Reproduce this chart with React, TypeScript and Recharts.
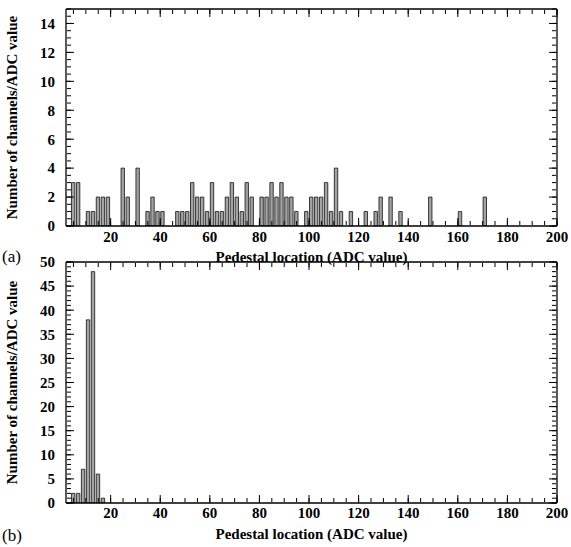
import { Bar, ComposedChart, XAxis, YAxis } from 'recharts'

// (a) pedestal histogram, 2-ADC bins (bin start -> channel count)
const adcBinsA = [
  4, 6, 10, 12, 14, 16, 18, 24, 26, 30, 34, 36, 38, 40, 46, 48, 50, 52, 54, 56,
  58, 60, 62, 64, 66, 68, 70, 72, 74, 76, 80, 82, 84, 86, 88, 90, 92, 94, 98, 100,
  102, 104, 106, 108, 110, 112, 116, 122, 126, 128, 132, 136, 148, 160, 170,
]
const channelCountsA = [
  3, 3, 1, 1, 2, 2, 2, 4, 2, 4, 1, 2, 1, 1, 1, 1, 1, 3, 2, 2,
  1, 3, 1, 1, 2, 3, 2, 1, 3, 2, 2, 2, 3, 2, 3, 2, 2, 1, 1, 2,
  2, 2, 3, 1, 4, 1, 1, 1, 1, 2, 2, 1, 2, 1, 2,
]

// (b)
const adcBinsB = [4, 6, 8, 10, 12, 14, 16]
const channelCountsB = [2, 2, 7, 38, 48, 6, 1]

const xTickLabels = [20, 40, 60, 80, 100, 120, 140, 160, 180, 200]
const yTickLabelsA = [0, 2, 4, 6, 8, 10, 12, 14]
const yTickLabelsB = [0, 5, 10, 15, 20, 25, 30, 35, 40, 45, 50]

const X_DOMAIN: [number, number] = [2, 200]
const BAR_OFFSET = 0.8
const FONT = '"Liberation Serif", "Times New Roman", serif'

const xMinorTicks = Array.from({ length: 40 }, (_, i) => (i + 1) * 5)
const steps = (max: number, step: number) =>
  Array.from({ length: Math.round(max / step) + 1 }, (_, i) => +(i * step).toFixed(2))

const frameLine = { stroke: '#000', strokeWidth: 1.3 }
const tickStroke = { stroke: '#000', strokeWidth: 1 }
const tickFont = { fill: '#000', fontSize: 15, fontWeight: 'bold', fontFamily: FONT }
const noLabel = () => <g />

interface PanelProps {
  bins: number[]
  counts: number[]
  yMax: number
  yLabels: number[]
  yMinorStep: number
  height: number
  marginTop: number
  xTickMargin: number
}

function Panel({ bins, counts, yMax, yLabels, yMinorStep, height, marginTop, xTickMargin }: PanelProps) {
  const data = bins.map((adc, i) => ({ adc, center: adc + BAR_OFFSET, count: counts[i] }))
  const yDomain: [number, number] = [0, yMax]
  const yMinor = steps(yMax, yMinorStep)

  // tick-only axes (inward ticks on all four sides of the frame)
  const xTickAxis = (id: string, orientation: 'top' | 'bottom', ticks: number[], size: number, line: boolean) => (
    <XAxis
      key={id}
      xAxisId={id}
      orientation={orientation}
      type="number"
      dataKey="center"
      domain={X_DOMAIN}
      allowDataOverflow
      ticks={ticks}
      interval={0}
      mirror
      height={1}
      tick={noLabel}
      tickSize={size}
      tickLine={tickStroke}
      axisLine={line ? frameLine : false}
    />
  )
  const yTickAxis = (id: string, orientation: 'left' | 'right', ticks: number[], size: number, line: boolean) => (
    <YAxis
      key={id}
      yAxisId={id}
      orientation={orientation}
      type="number"
      domain={yDomain}
      allowDataOverflow
      ticks={ticks}
      interval={0}
      mirror
      width={1}
      tick={noLabel}
      tickSize={size}
      tickLine={tickStroke}
      axisLine={line ? frameLine : false}
    />
  )

  return (
    <ComposedChart width={571} height={height} data={data} margin={{ top: marginTop, right: 14, bottom: 0, left: 0 }}>
      <XAxis
        xAxisId="x"
        type="number"
        dataKey="center"
        domain={X_DOMAIN}
        allowDataOverflow
        ticks={xTickLabels}
        interval={0}
        height={44}
        tickLine={false}
        tickSize={0}
        tickMargin={xTickMargin}
        axisLine={frameLine}
        tick={tickFont}
        label={{
          value: 'Pedestal location (ADC value)',
          position: 'insideBottom',
          offset: 8,
          fill: '#000',
          fontSize: 15,
          fontWeight: 'bold',
          fontFamily: FONT,
        }}
      />
      {xTickAxis('xb1', 'bottom', xTickLabels, 8, false)}
      {xTickAxis('xb2', 'bottom', xMinorTicks, 4, false)}
      {xTickAxis('xt1', 'top', xTickLabels, 8, true)}
      {xTickAxis('xt2', 'top', xMinorTicks, 4, false)}
      <YAxis
        yAxisId="y"
        type="number"
        domain={yDomain}
        allowDataOverflow
        ticks={yLabels}
        interval={0}
        width={66}
        tickLine={false}
        tickSize={0}
        tickMargin={11}
        axisLine={frameLine}
        tick={tickFont}
        label={{
          value: 'Number of channels/ADC value',
          angle: -90,
          position: 'insideLeft',
          offset: 12,
          fill: '#000',
          fontSize: 15,
          fontWeight: 'bold',
          fontFamily: FONT,
          style: { textAnchor: 'middle' },
        }}
      />
      {yTickAxis('yl1', 'left', yLabels, 8, false)}
      {yTickAxis('yl2', 'left', yMinor, 4, false)}
      {yTickAxis('yr1', 'right', yLabels, 8, true)}
      {yTickAxis('yr2', 'right', yMinor, 4, false)}
      <Bar
        xAxisId="x"
        yAxisId="y"
        dataKey="count"
        fill="#a3a3a3"
        stroke="#111"
        strokeWidth={0.8}
        barSize={3.4}
        isAnimationActive={false}
      />
    </ComposedChart>
  )
}

const tag = { position: 'absolute' as const, left: 2, fontFamily: FONT, fontSize: 17, color: '#000' }

export default function App() {
  return (
    <div style={{ position: 'absolute', left: 0, top: 0, width: 571, height: 547, background: '#fff' }}>
      <div style={{ position: 'absolute', left: 0, top: 0 }}>
        <Panel
          bins={adcBinsA}
          counts={channelCountsA}
          yMax={15}
          yLabels={yTickLabelsA}
          yMinorStep={0.5}
          height={270}
          marginTop={9}
          xTickMargin={5}
        />
      </div>
      <div style={{ position: 'absolute', left: 0, top: 250 }}>
        <Panel
          bins={adcBinsB}
          counts={channelCountsB}
          yMax={50}
          yLabels={yTickLabelsB}
          yMinorStep={1}
          height={297}
          marginTop={12}
          xTickMargin={4}
        />
      </div>
      <div style={{ ...tag, top: 247 }}>(a)</div>
      <div style={{ ...tag, top: 526 }}>(b)</div>
    </div>
  )
}
